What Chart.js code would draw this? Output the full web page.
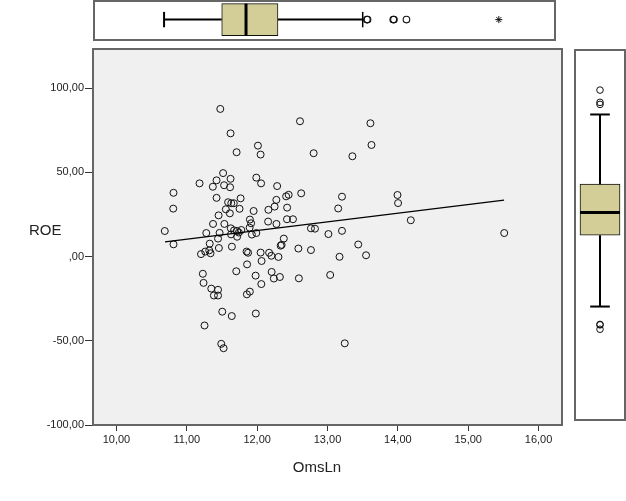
<!DOCTYPE html>
<html><head><meta charset="utf-8">
<script src="https://cdn.jsdelivr.net/npm/chart.js@4.4.0/dist/chart.umd.min.js"></script>
<style>
body{margin:0;background:#fff;}
#wrap{position:relative;width:626px;height:501px;overflow:hidden;background:#fff;font-family:"Liberation Sans",Arial,sans-serif;}
canvas{position:absolute;}
.lbl{position:absolute;font-size:15px;color:#222;white-space:nowrap;line-height:1;}
</style></head><body>
<div id="wrap">
<canvas id="main" width="626" height="501" style="left:0;top:0"></canvas>
<canvas id="topBox" width="463" height="41" style="left:93px;top:0"></canvas>
<canvas id="rightBox" width="52" height="372" style="left:574px;top:49px"></canvas>
<div class="lbl" style="left:29px;top:222px">ROE</div>
<div class="lbl" style="left:317px;top:459px;transform:translateX(-50%)">OmsLn</div>
</div>
<script>
// ---------------- data ----------------
const omsLn = [11.476,12.609,11.622,12.011,11.708,12.049,12.803,11.516,11.181,11.423,
11.622,11.370,11.530,11.615,11.988,12.056,12.284,10.811,12.626,11.423,
11.765,12.412,12.448,11.587,11.632,11.668,12.273,10.807,11.555,11.750,
11.950,12.160,12.248,12.426,11.452,11.612,11.897,11.914,12.156,12.274,
12.424,12.509,11.373,11.534,10.687,11.277,11.466,11.625,11.672,11.715,
11.775,11.740,11.629,11.715,11.925,11.988,12.765,12.822,13.013,13.152,
12.379,11.444,10.811,11.326,11.893,11.456,11.641,11.202,11.262,11.319,
11.338,11.850,11.871,12.049,12.170,12.202,12.303,12.334,12.348,12.586,
12.765,13.171,12.063,11.857,11.703,11.228,11.238,11.978,12.206,12.237,
12.323,12.593,13.038,12.059,11.348,11.444,11.385,11.444,11.854,11.896,
11.504,11.639,11.981,11.252,11.490,11.523,13.610,13.625,13.354,13.206,
13.995,14.003,14.184,15.512,13.206,13.437,13.548,13.245];
const roe = [87.7,80.4,73.2,65.9,62.0,60.6,61.4,49.6,43.5,45.3,
46.2,41.5,42.4,41.2,46.9,43.5,41.9,37.9,37.6,34.9,
34.6,35.8,36.7,32.3,31.7,31.7,33.7,28.5,28.1,28.4,
27.1,27.8,29.7,29.1,24.5,25.7,22.0,19.8,20.8,19.4,
22.2,22.2,19.4,19.4,15.2,14.0,14.1,16.8,15.6,15.2,
15.8,14.3,13.2,11.8,13.1,14.0,16.8,16.6,13.4,28.6,
10.7,10.7,7.3,7.7,17.2,5.1,5.9,1.5,3.0,3.7,
2.0,3.0,2.3,2.4,2.3,0.5,-0.2,6.5,7.0,4.8,
3.9,-0.1,-2.6,-4.6,-8.7,-10.2,-15.6,-11.3,-9.1,-13.0,
-12.1,-12.9,-10.9,-16.3,-19.0,-19.7,-23.1,-23.1,-22.4,-20.8,
-32.7,-35.3,-33.8,-40.9,-51.8,-54.4,79.2,66.3,59.6,35.6,
36.6,31.8,21.6,14.0,15.3,7.2,0.8,-51.5];

const xTickValues = [10,11,12,13,14,15,16];
const xTickLabels = ['10,00','11,00','12,00','13,00','14,00','15,00','16,00'];
const yTickValues = [-100,-50,0,50,100];
const yTickLabels = ['-100,00','-50,00',',00','50,00','100,00'];

const fitLineX = [10.69, 15.51];
const fitLineY = [8.7, 33.6];

// box plot summaries: [whisker low, Q1, median, Q3, whisker high]
const omsLnBox = [10.69, 11.52, 11.87, 12.33, 13.55];
const omsLnOutliers = [13.61, 13.62, 13.99, 14.00, 14.18];
const omsLnExtremes = [15.51];
const roeBox = [-40.9, 1.5, 14.9, 31.8, 73.2];
const roeOutliers = [87.7, 80.4, 79.2, -51.5, -51.8, -54.4];

// ---------------- style ----------------
const FONT = '"Liberation Sans", Arial, sans-serif';
const TXT = '#222';
const BOX_FILL = '#D3CE98';
const FRAME = '#666666';
const X_RANGE = [9.6667, 16.3333];
const Y_RANGE = [-100, 123.3];
const RIGHT_Y_RANGE = [-108.9, 112.1];

const framePlugin = {
  id: 'plotFrame',
  beforeDraw(chart, args, o) {
    const a = chart.chartArea, c = chart.ctx;
    c.save();
    if (o.fill) { c.fillStyle = o.fill; c.fillRect(a.left, a.top, a.right - a.left, a.bottom - a.top); }
    c.restore();
  },
  afterDraw(chart, args, o) {
    const a = chart.chartArea, c = chart.ctx;
    c.save();
    c.strokeStyle = o.color || FRAME; c.lineWidth = o.width || 2;
    const i = o.inset || 0;
    c.strokeRect(a.left + i, a.top + i, a.right - a.left - 2 * i, a.bottom - a.top - 2 * i);
    c.restore();
  }
};

const common = {
  responsive: false, animation: false, events: [],
  plugins: { legend: { display: false }, tooltip: { enabled: false } }
};
const hiddenLinear = (min, max) => ({ type: 'linear', display: false, min, max,
  bounds: 'data', offset: false, beginAtZero: false, grace: 0 });

// ---------------- main scatter ----------------
new Chart(document.getElementById('main'), {
  type: 'scatter',
  data: { datasets: [
    { type: 'line', data: fitLineX.map((x, i) => ({ x, y: fitLineY[i] })),
      borderColor: '#000', borderWidth: 1.3, pointRadius: 0, fill: false, tension: 0 },
    { type: 'scatter', data: omsLn.map((x, i) => ({ x, y: roe[i] })),
      pointRadius: 3.5, pointHoverRadius: 3.5, borderWidth: 1, borderColor: '#111',
      backgroundColor: 'rgba(0,0,0,0)' }
  ]},
  options: Object.assign({}, common, {
    layout: { padding: { top: 49, right: 64, left: 0, bottom: 0 }, autoPadding: false },
    plugins: Object.assign({}, common.plugins, { plotFrame: { fill: '#F0F0F0', color: FRAME, width: 2 } }),
    scales: {
      x: { type: 'linear', bounds: 'data', min: X_RANGE[0], max: X_RANGE[1],
        afterBuildTicks: s => { s.ticks = xTickValues.map(v => ({ value: v })); },
        afterFit: s => { s.height = 76; },
        grid: { drawOnChartArea: false, color: '#333', tickLength: 6 },
        border: { display: false },
        ticks: { padding: 2, color: TXT, autoSkip: false, maxRotation: 0,
          font: { family: FONT, size: 11 },
          callback: v => xTickLabels[xTickValues.indexOf(v)] } },
      y: { type: 'linear', bounds: 'data', min: Y_RANGE[0], max: Y_RANGE[1],
        afterBuildTicks: s => { s.ticks = yTickValues.map(v => ({ value: v })); },
        afterFit: s => { s.width = 93; },
        grid: { drawOnChartArea: false, color: '#333', tickLength: 8 },
        border: { display: false },
        ticks: { padding: 1, color: TXT, autoSkip: false,
          font: { family: FONT, size: 11 },
          callback: v => yTickLabels[yTickValues.indexOf(v)] } }
    }
  }),
  plugins: [framePlugin]
});

// ---------------- top box plot (OmsLn) ----------------
const TOP_BOX_HALF = 16, TOP_CAP_HALF = 7.7;
new Chart(document.getElementById('topBox'), {
  type: 'scatter',
  data: { datasets: [
    { type: 'line', data: [{ x: omsLnBox[2], y: -TOP_BOX_HALF }, { x: omsLnBox[2], y: TOP_BOX_HALF }], borderColor: '#000', borderWidth: 3, pointRadius: 0, order: 0 },
    { type: 'line', data: [{ x: omsLnBox[0], y: 0 }, { x: omsLnBox[1], y: 0 }], borderColor: '#000', borderWidth: 2, pointRadius: 0, order: 1 },
    { type: 'line', data: [{ x: omsLnBox[3], y: 0 }, { x: omsLnBox[4], y: 0 }], borderColor: '#000', borderWidth: 2, pointRadius: 0, order: 1 },
    { type: 'line', data: [{ x: omsLnBox[0], y: -TOP_CAP_HALF }, { x: omsLnBox[0], y: TOP_CAP_HALF }], borderColor: '#000', borderWidth: 2, pointRadius: 0, order: 1 },
    { type: 'line', data: [{ x: omsLnBox[4], y: -TOP_CAP_HALF }, { x: omsLnBox[4], y: TOP_CAP_HALF }], borderColor: '#000', borderWidth: 1.5, pointRadius: 0, order: 1 },
    { type: 'scatter', data: omsLnOutliers.map(v => ({ x: v, y: 0 })), pointRadius: 3.3, borderWidth: 1.1, borderColor: '#111', backgroundColor: 'rgba(0,0,0,0)', order: 0 },
    { type: 'scatter', data: omsLnExtremes.map(v => ({ x: v, y: 0 })), pointStyle: 'star', pointRadius: 3.5, borderWidth: 1, borderColor: '#111', order: 0 },
    { type: 'bar', indexAxis: 'y', data: [{ x: [omsLnBox[1], omsLnBox[3]], y: 0 }], order: 5,
      barThickness: TOP_BOX_HALF * 2, backgroundColor: BOX_FILL, borderColor: '#111', borderWidth: 1, borderSkipped: false }
  ]},
  options: Object.assign({}, common, {
    layout: { padding: 0, autoPadding: false },
    plugins: Object.assign({}, common.plugins, { plotFrame: { color: FRAME, width: 2, inset: 1 } }),
    scales: { x: hiddenLinear(X_RANGE[0], X_RANGE[1]), y: hiddenLinear(-21.4, 19.6) }
  }),
  plugins: [framePlugin]
});

// ---------------- right box plot (ROE) ----------------
const R_BOX_HALF = 20, R_CAP_HALF = 9.8;
new Chart(document.getElementById('rightBox'), {
  type: 'scatter',
  data: { datasets: [
    { type: 'line', data: [{ x: -R_BOX_HALF, y: roeBox[2] }, { x: R_BOX_HALF, y: roeBox[2] }], borderColor: '#000', borderWidth: 3, pointRadius: 0, order: 0 },
    { type: 'line', data: [{ x: 0, y: roeBox[0] }, { x: 0, y: roeBox[1] }], borderColor: '#000', borderWidth: 2, pointRadius: 0, order: 1 },
    { type: 'line', data: [{ x: 0, y: roeBox[3] }, { x: 0, y: roeBox[4] }], borderColor: '#000', borderWidth: 2, pointRadius: 0, order: 1 },
    { type: 'line', data: [{ x: -R_CAP_HALF, y: roeBox[0] }, { x: R_CAP_HALF, y: roeBox[0] }], borderColor: '#000', borderWidth: 2, pointRadius: 0, order: 1 },
    { type: 'line', data: [{ x: -R_CAP_HALF, y: roeBox[4] }, { x: R_CAP_HALF, y: roeBox[4] }], borderColor: '#000', borderWidth: 2, pointRadius: 0, order: 1 },
    { type: 'scatter', data: roeOutliers.map(v => ({ x: 0, y: v })), pointRadius: 3.3, borderWidth: 1, borderColor: '#111', backgroundColor: 'rgba(0,0,0,0)', order: 0 },
    { type: 'bar', indexAxis: 'x', data: [{ x: 0, y: [roeBox[1], roeBox[3]] }], order: 5,
      barThickness: R_BOX_HALF * 2, backgroundColor: BOX_FILL, borderColor: '#111', borderWidth: 1, borderSkipped: false }
  ]},
  options: Object.assign({}, common, {
    layout: { padding: 0, autoPadding: false },
    plugins: Object.assign({}, common.plugins, { plotFrame: { color: FRAME, width: 2, inset: 1 } }),
    scales: { x: hiddenLinear(-26, 26), y: hiddenLinear(RIGHT_Y_RANGE[0], RIGHT_Y_RANGE[1]) }
  }),
  plugins: [framePlugin]
});
</script>
</body></html>
